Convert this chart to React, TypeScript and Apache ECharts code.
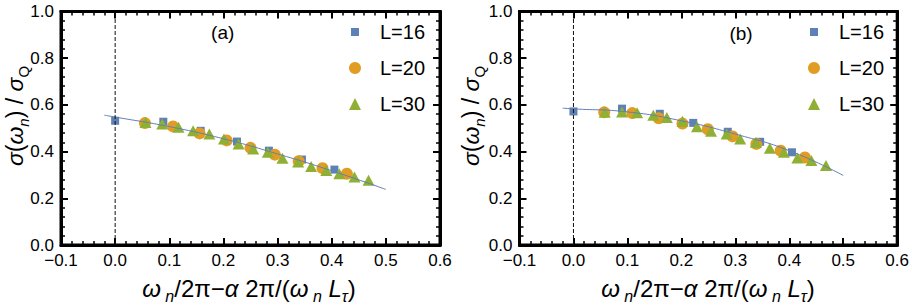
import React, { useEffect, useRef } from 'react';
import * as echarts from 'echarts';

// ---------- data ----------
const seriesNames = ['L=16', 'L=20', 'L=30'];
const xTickValues = [-0.1, 0, 0.1, 0.2, 0.3, 0.4, 0.5, 0.6];
const yTickValues = [0, 0.2, 0.4, 0.6, 0.8, 1.0];

// panel (a)
const a16X = [0.0, 0.089, 0.158, 0.225, 0.284, 0.345, 0.405];
const a16Y = [0.532, 0.528, 0.489, 0.443, 0.404, 0.366, 0.323];
const a20X = [0.055, 0.107, 0.156, 0.206, 0.25, 0.295, 0.339, 0.383, 0.428];
const a20Y = [0.522, 0.508, 0.478, 0.448, 0.416, 0.387, 0.359, 0.329, 0.305];
const a30X = [0.056, 0.087, 0.117, 0.144, 0.174, 0.201, 0.228, 0.255, 0.282, 0.309, 0.338, 0.362, 0.39, 0.414, 0.442, 0.468];
const a30Y = [0.525, 0.518, 0.504, 0.489, 0.475, 0.454, 0.433, 0.411, 0.397, 0.372, 0.355, 0.336, 0.319, 0.305, 0.291, 0.277];
const aFitX = [-0.02, 0, 0.1, 0.2, 0.3, 0.4, 0.5];
const aFitY = [0.556, 0.548, 0.507, 0.455, 0.39, 0.318, 0.238];

// panel (b)
const b16X = [0.0, 0.09, 0.16, 0.222, 0.286, 0.346, 0.405];
const b16Y = [0.572, 0.584, 0.562, 0.523, 0.485, 0.442, 0.397];
const b20X = [0.057, 0.109, 0.158, 0.202, 0.249, 0.295, 0.339, 0.384, 0.429];
const b20Y = [0.568, 0.565, 0.543, 0.52, 0.496, 0.465, 0.433, 0.404, 0.375];
const b30X = [0.058, 0.09, 0.118, 0.148, 0.173, 0.202, 0.229, 0.255, 0.284, 0.309, 0.338, 0.364, 0.39, 0.415, 0.441, 0.468];
const b30Y = [0.569, 0.57, 0.566, 0.556, 0.546, 0.53, 0.506, 0.487, 0.475, 0.454, 0.44, 0.414, 0.397, 0.373, 0.362, 0.34];
const bFitX = [-0.02, 0, 0.1, 0.2, 0.3, 0.4, 0.5];
const bFitY = [0.586, 0.583, 0.57, 0.532, 0.475, 0.404, 0.298];

const zeroLineX = [0, 0];
const zeroLineY = [0, 1];

// ---------- styling ----------
const FONT = '"Liberation Sans", Arial, sans-serif';
const C16 = '#5E81B5';
const C20 = '#E19C24';
const C30 = '#8FB032';
const SQUARE_ICON = 'path://M0,0M2,2L10,2L10,10L2,10Z M12,12';

const zip = (xs: number[], ys: number[]) => xs.map((x, i) => [x, ys[i]]);

const fmt = (v: number) => {
  const s = Math.abs(v).toFixed(1);
  return v < -1e-9 ? '\u2212' + s : s;
};

const AXIS_W = 3;

function xAxis(gridIndex: number, position: 'bottom' | 'top', labels: boolean) {
  return {
    type: 'value',
    gridIndex,
    position,
    min: xTickValues[0],
    max: xTickValues[xTickValues.length - 1],
    interval: 0.1,
    axisLine: { show: true, onZero: false, lineStyle: { color: '#000', width: AXIS_W } },
    axisTick: { show: true, inside: true, length: 7, lineStyle: { color: '#000', width: 2 } },
    minorTick: { show: true, splitNumber: 5, length: 4, lineStyle: { color: '#000', width: 1.5 } },
    axisLabel: {
      show: labels, formatter: fmt, fontSize: 17, color: '#000', fontFamily: FONT, margin: 7,
      showMinLabel: true, showMaxLabel: true, hideOverlap: false,
    },
    splitLine: { show: false },
    minorSplitLine: { show: false },
  };
}

function yAxis(gridIndex: number, position: 'left' | 'right', labels: boolean) {
  return {
    type: 'value',
    gridIndex,
    position,
    min: yTickValues[0],
    max: yTickValues[yTickValues.length - 1],
    interval: 0.2,
    axisLine: { show: true, onZero: false, lineStyle: { color: '#000', width: AXIS_W } },
    axisTick: { show: true, inside: true, length: 7, lineStyle: { color: '#000', width: 2 } },
    minorTick: { show: true, splitNumber: 5, length: 4, lineStyle: { color: '#000', width: 1.5 } },
    axisLabel: {
      show: labels, formatter: fmt, fontSize: 17, color: '#000', fontFamily: FONT, margin: 7,
      showMinLabel: true, showMaxLabel: true, hideOverlap: false,
    },
    splitLine: { show: false },
    minorSplitLine: { show: false },
  };
}

function panelSeries(
  xi: number, yi: number,
  d16: number[][], d20: number[][], d30: number[][], fit: number[][]
) {
  const common = { xAxisIndex: xi, yAxisIndex: yi, emphasis: { disabled: true }, silent: true };
  return [
    { ...common, type: 'scatter', name: seriesNames[0], data: d16, symbol: 'rect', symbolSize: 8, itemStyle: { color: C16, opacity: 1 } },
    { ...common, type: 'scatter', name: seriesNames[1], data: d20, symbol: 'circle', symbolSize: 12, itemStyle: { color: C20, opacity: 1 } },
    { ...common, type: 'scatter', name: seriesNames[2], data: d30, symbol: 'triangle', symbolSize: [12, 11], itemStyle: { color: C30, opacity: 1 } },
    { ...common, type: 'line', name: 'fit', data: fit, smooth: true, showSymbol: false, symbol: 'none', lineStyle: { color: C16, width: 1 } },
    { ...common, type: 'line', name: 'zero', data: zip(zeroLineX, zeroLineY), showSymbol: false, symbol: 'none', lineStyle: { color: '#111', width: 1, type: [4, 2] } },
  ];
}

const rich = {
  r: { fontSize: 24, fontFamily: FONT, fill: '#000', lineHeight: 32, verticalAlign: 'middle' },
  i: { fontSize: 24, fontFamily: FONT, fontStyle: 'italic', fill: '#000', lineHeight: 32, verticalAlign: 'middle' },
  s: { fontSize: 16, fontFamily: FONT, fontStyle: 'italic', fill: '#000', lineHeight: 32, verticalAlign: 'bottom' },
  q: { fontSize: 15, fontFamily: FONT, fill: '#000', lineHeight: 32, verticalAlign: 'bottom' },
};
const richY = {
  r: { ...rich.r, fontSize: 23 },
  i: { ...rich.i, fontSize: 23 },
  s: { ...rich.s, fontSize: 15 },
  q: rich.q,
};

const X_TITLE = '{i|ω}{s| n}{r|/2π−}{i|α}{r| 2π/(}{i|ω}{s| n}{r| }{i|L}{s|τ}{r|)}';
const Y_TITLE = '{i|σ}{r|(}{i|ω}{s|n}{r|) / }{i|σ}{q|Q}';

function legend(left: number) {
  return {
    data: [
      { name: seriesNames[0], icon: SQUARE_ICON },
      { name: seriesNames[1], icon: 'circle' },
      { name: seriesNames[2], icon: 'triangle' },
    ],
    orient: 'vertical',
    left,
    top: 22,
    padding: 0,
    itemWidth: 12,
    itemHeight: 12,
    itemGap: 16,
    selectedMode: false,
    textStyle: { fontSize: 20, fontFamily: FONT, color: '#000', lineHeight: 20, padding: [0, 0, 0, 14] },
  };
}

export default function App() {
  const ref = useRef<HTMLDivElement>(null);
  useEffect(() => {
    if (!ref.current) return;
    const chart = echarts.init(ref.current, undefined, { renderer: 'svg' });
    const frame = { show: true, borderColor: '#000', borderWidth: 3, backgroundColor: 'transparent' };
    const option: any = {
      animation: false,
      backgroundColor: '#fff',
      grid: [
        { left: 61, top: 11.5, width: 379, height: 233.5, ...frame },
        { left: 519.5, top: 11.5, width: 381, height: 233.5, ...frame },
      ],
      xAxis: [xAxis(0, 'bottom', true), xAxis(0, 'top', false), xAxis(1, 'bottom', true), xAxis(1, 'top', false)],
      yAxis: [yAxis(0, 'left', true), yAxis(0, 'right', false), yAxis(1, 'left', true), yAxis(1, 'right', false)],
      legend: [legend(349), legend(808)],
      series: [
        ...panelSeries(0, 0, zip(a16X, a16Y), zip(a20X, a20Y), zip(a30X, a30Y), zip(aFitX, aFitY)),
        ...panelSeries(2, 2, zip(b16X, b16Y), zip(b20X, b20Y), zip(b30X, b30Y), zip(bFitX, bFitY)),
      ],
      graphic: [
        { type: 'text', x: 222.7, y: 32, style: { text: '(a)', fontSize: 19, fontFamily: FONT, fill: '#000', align: 'center', verticalAlign: 'middle' } },
        { type: 'text', x: 741, y: 33, style: { text: '(b)', fontSize: 19, fontFamily: FONT, fill: '#000', align: 'center', verticalAlign: 'middle' } },
        { type: 'text', x: 249, y: 288, style: { text: X_TITLE, rich, align: 'center', verticalAlign: 'middle' } },
        { type: 'text', x: 708, y: 288, style: { text: X_TITLE, rich, align: 'center', verticalAlign: 'middle' } },
        { type: 'text', x: 15, y: 116, rotation: Math.PI / 2, style: { text: Y_TITLE, rich: richY, align: 'center', verticalAlign: 'middle' } },
        { type: 'text', x: 471, y: 116, rotation: Math.PI / 2, style: { text: Y_TITLE, rich: richY, align: 'center', verticalAlign: 'middle' } },
      ],
    };
    chart.setOption(option);
    return () => chart.dispose();
  }, []);
  return <div ref={ref} style={{ position: 'absolute', left: 0, top: 0, width: 912, height: 308 }} />;
}
